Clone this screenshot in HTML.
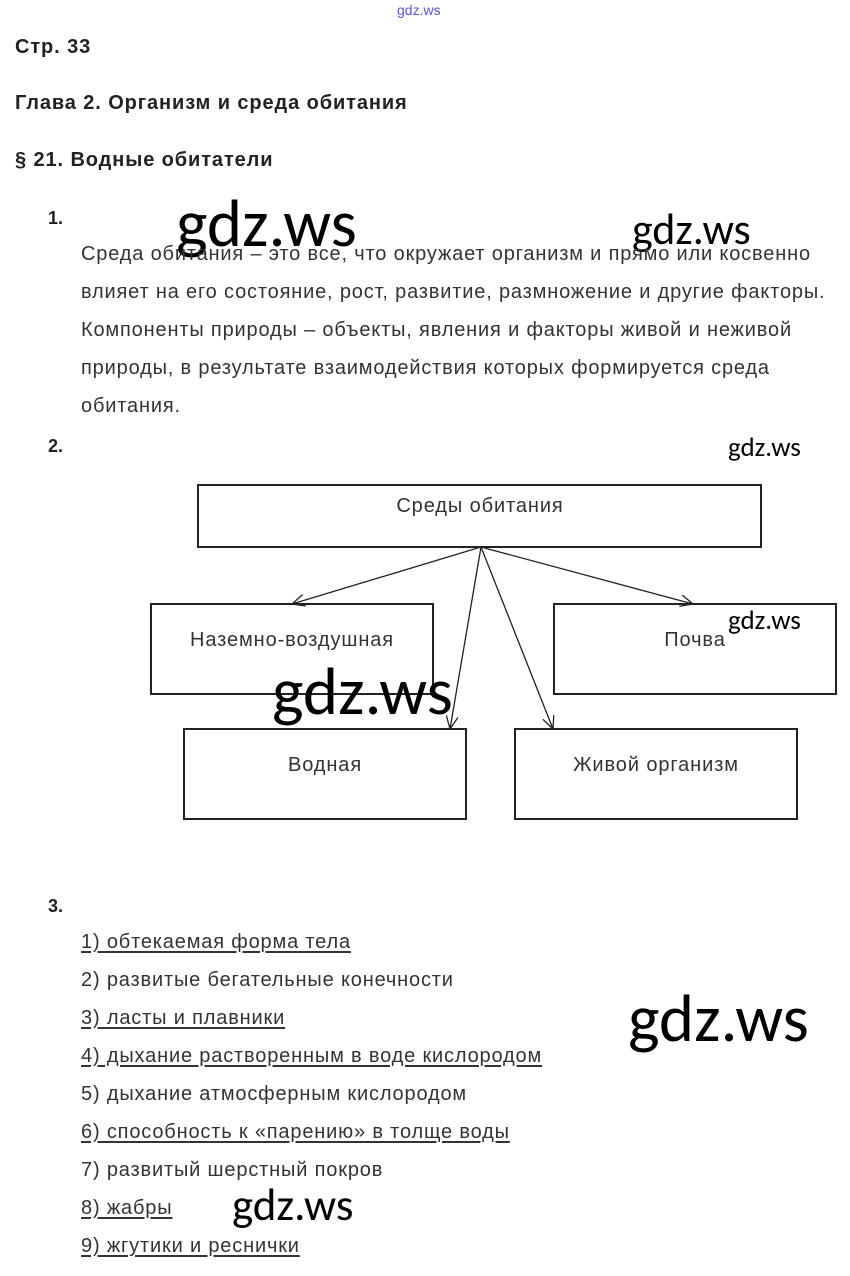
<!DOCTYPE html>
<html><head><meta charset="utf-8"><style>
body{margin:0;width:850px;height:1276px;background:#fff;position:relative;font-family:"Liberation Sans",Arial,sans-serif;overflow:hidden}
.a{position:absolute;white-space:nowrap}
.h{font-weight:bold;font-size:20px;letter-spacing:0.9px;color:#222;left:15px}
.t{font-size:20px;letter-spacing:0.83px;color:#333;left:81px}
.w{font-family:"Carlito","Liberation Sans",sans-serif;color:#000}
.u{text-decoration:underline;text-underline-offset:3px}
.n{font-weight:bold;font-size:18px;color:#222;left:48px}
</style></head><body>
<div class="a" style="left:397px;top:2px;font-size:14px;color:#5555dd">gdz.ws</div>
<div class="a h" style="top:36px">Стр. 33</div>
<div class="a h" style="top:92px">Глава 2. Организм и среда обитания</div>
<div class="a h" style="top:149px">§ 21. Водные обитатели</div>
<div class="a n" style="top:208px">1.</div>
<div class="a w" style="left:176px;top:182px;font-size:67px">gdz.ws</div>
<div class="a w" style="left:632px;top:202px;font-size:44px">gdz.ws</div>
<div class="a t" style="top:243px">Среда обитания – это все, что окружает организм и прямо или косвенно</div>
<div class="a t" style="top:281px">влияет на его состояние, рост, развитие, размножение и другие факторы.</div>
<div class="a t" style="top:319px">Компоненты природы – объекты, явления и факторы живой и неживой</div>
<div class="a t" style="top:357px">природы, в результате взаимодействия которых формируется среда</div>
<div class="a t" style="top:395px">обитания.</div>
<div class="a n" style="top:436px">2.</div>
<div class="a w" style="left:728px;top:431px;font-size:27px">gdz.ws</div>
<svg class="a" style="left:0;top:0" width="850" height="1276">
<defs><marker id="m" markerWidth="14" markerHeight="12" refX="13" refY="6" orient="auto" markerUnits="userSpaceOnUse"><path d="M0,0 L13,6 L0,12" fill="none" stroke="#222" stroke-width="1.3"/></marker></defs>
<g fill="none" stroke="#222" stroke-width="2">
<rect x="198" y="485" width="563" height="62"/>
<rect x="151" y="604" width="282" height="90"/>
<rect x="554" y="604" width="282" height="90"/>
<rect x="184" y="729" width="282" height="90"/>
<rect x="515" y="729" width="282" height="90"/>
</g>
<g stroke="#222" stroke-width="1.3" marker-end="url(#m)">
<line x1="481" y1="547" x2="292" y2="604"/>
<line x1="481" y1="547" x2="693" y2="604"/>
<line x1="481" y1="547" x2="450" y2="729"/>
<line x1="481" y1="547" x2="553" y2="729"/>
</g>
<g font-family="Liberation Sans,sans-serif" font-size="20" letter-spacing="0.9" fill="#333" text-anchor="middle">
<text x="480" y="512">Среды обитания</text>
<text x="292" y="646">Наземно-воздушная</text>
<text x="695" y="646">Почва</text>
<text x="325" y="771">Водная</text>
<text x="656" y="771">Живой организм</text>
</g>
</svg>
<div class="a w" style="left:728px;top:604px;font-size:27px">gdz.ws</div>
<div class="a w" style="left:272px;top:650px;font-size:67px">gdz.ws</div>
<div class="a n" style="top:896px">3.</div>
<div class="a t u" style="top:931px">1) обтекаемая форма тела</div>
<div class="a t" style="top:969px">2) развитые бегательные конечности</div>
<div class="a t u" style="top:1007px">3) ласты и плавники</div>
<div class="a t u" style="top:1045px">4) дыхание растворенным в воде кислородом</div>
<div class="a t" style="top:1083px">5) дыхание атмосферным кислородом</div>
<div class="a t u" style="top:1121px">6) способность к «парению» в толще воды</div>
<div class="a t" style="top:1159px">7) развитый шерстный покров</div>
<div class="a t u" style="top:1197px">8) жабры</div>
<div class="a t u" style="top:1235px">9) жгутики и реснички</div>
<div class="a w" style="left:628px;top:977px;font-size:67px">gdz.ws</div>
<div class="a w" style="left:232px;top:1178px;font-size:45px">gdz.ws</div>
</body></html>
